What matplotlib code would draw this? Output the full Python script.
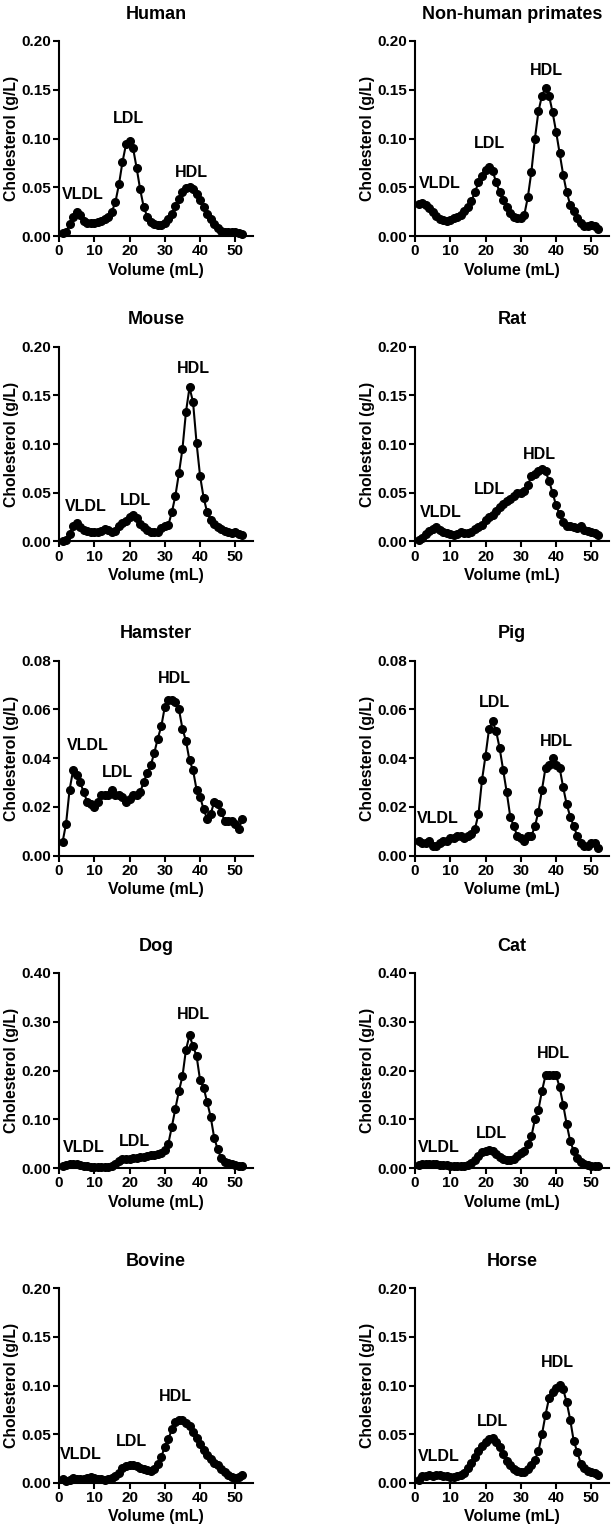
import matplotlib
matplotlib.use("Agg")
import matplotlib.pyplot as plt
from matplotlib.ticker import FormatStrFormatter, MultipleLocator

plt.rcParams['font.family'] = ['Liberation Sans', 'DejaVu Sans']
plt.rcParams['font.weight'] = 'bold'

volume = list(range(1, 53))

human = [0.003, 0.004, 0.012, 0.020, 0.025, 0.022, 0.015, 0.013, 0.013, 0.013,
         0.014, 0.015, 0.017, 0.020, 0.025, 0.035, 0.053, 0.076, 0.094, 0.097,
         0.090, 0.070, 0.048, 0.030, 0.020, 0.014, 0.012, 0.011, 0.011, 0.013,
         0.017, 0.023, 0.031, 0.038, 0.045, 0.049, 0.050, 0.048, 0.043, 0.037,
         0.030, 0.023, 0.017, 0.012, 0.008, 0.005, 0.004, 0.004, 0.004, 0.004,
         0.003, 0.002]
primates = [0.033, 0.034, 0.032, 0.029, 0.025, 0.021, 0.017, 0.016, 0.015, 0.016,
            0.018, 0.020, 0.022, 0.026, 0.030, 0.036, 0.045, 0.055, 0.062, 0.068,
            0.071, 0.067, 0.055, 0.045, 0.037, 0.030, 0.024, 0.020, 0.018, 0.018,
            0.022, 0.040, 0.066, 0.100, 0.128, 0.144, 0.152, 0.144, 0.127, 0.107,
            0.085, 0.063, 0.045, 0.032, 0.026, 0.018, 0.013, 0.010, 0.010, 0.011,
            0.010, 0.007]
mouse = [0.001, 0.002, 0.008, 0.016, 0.019, 0.015, 0.012, 0.011, 0.010, 0.010,
         0.010, 0.011, 0.013, 0.012, 0.010, 0.011, 0.016, 0.019, 0.021, 0.025,
         0.027, 0.024, 0.018, 0.015, 0.012, 0.010, 0.010, 0.010, 0.014, 0.016,
         0.017, 0.030, 0.047, 0.070, 0.095, 0.133, 0.158, 0.143, 0.101, 0.067,
         0.045, 0.030, 0.022, 0.018, 0.015, 0.013, 0.011, 0.010, 0.009, 0.010,
         0.008, 0.007]
rat = [0.002, 0.004, 0.008, 0.011, 0.013, 0.015, 0.012, 0.010, 0.009, 0.008,
       0.007, 0.008, 0.010, 0.009, 0.009, 0.010, 0.013, 0.015, 0.017, 0.022,
       0.025, 0.027, 0.031, 0.035, 0.038, 0.042, 0.044, 0.047, 0.050, 0.050,
       0.052, 0.058, 0.067, 0.069, 0.072, 0.074, 0.072, 0.062, 0.050, 0.037,
       0.028, 0.020, 0.016, 0.016, 0.015, 0.014, 0.016, 0.012, 0.011, 0.010,
       0.009, 0.007]
hamster = [0.0055, 0.013, 0.027, 0.035, 0.033, 0.030, 0.026, 0.022, 0.021, 0.020,
           0.022, 0.025, 0.025, 0.025, 0.027, 0.025, 0.025, 0.024, 0.022, 0.023,
           0.025, 0.025, 0.026, 0.030, 0.034, 0.037, 0.042, 0.048, 0.053, 0.061,
           0.064, 0.064, 0.063, 0.060, 0.052, 0.047, 0.039, 0.035, 0.027, 0.024,
           0.019, 0.015, 0.017, 0.022, 0.021, 0.018, 0.014, 0.014, 0.014, 0.013,
           0.011, 0.015]
pig = [0.006, 0.005, 0.005, 0.006, 0.004, 0.004, 0.005, 0.006, 0.006, 0.007,
       0.007, 0.008, 0.008, 0.007, 0.008, 0.009, 0.011, 0.017, 0.031, 0.041,
       0.052, 0.055, 0.051, 0.044, 0.035, 0.026, 0.016, 0.012, 0.008, 0.007,
       0.006, 0.008, 0.008, 0.012, 0.018, 0.027, 0.036, 0.037, 0.040, 0.037,
       0.036, 0.028, 0.021, 0.016, 0.012, 0.008, 0.005, 0.004, 0.004, 0.005,
       0.005, 0.003]
dog = [0.005, 0.007, 0.009, 0.009, 0.008, 0.007, 0.005, 0.004, 0.003, 0.003,
       0.003, 0.003, 0.002, 0.002, 0.004, 0.008, 0.015, 0.018, 0.018, 0.018,
       0.020, 0.021, 0.022, 0.023, 0.025, 0.026, 0.027, 0.028, 0.030, 0.037,
       0.050, 0.085, 0.122, 0.158, 0.188, 0.243, 0.272, 0.250, 0.230, 0.180,
       0.165, 0.135, 0.105, 0.062, 0.038, 0.020, 0.013, 0.010, 0.008, 0.006,
       0.005, 0.004]
cat = [0.007, 0.009, 0.008, 0.008, 0.009, 0.008, 0.007, 0.007, 0.006, 0.005,
       0.004, 0.004, 0.004, 0.005, 0.006, 0.010, 0.017, 0.025, 0.032, 0.035,
       0.036, 0.034, 0.029, 0.023, 0.018, 0.016, 0.016, 0.019, 0.025, 0.031,
       0.035, 0.050, 0.065, 0.100, 0.120, 0.158, 0.190, 0.190, 0.190, 0.190,
       0.166, 0.130, 0.090, 0.055, 0.035, 0.020, 0.012, 0.008, 0.006, 0.005,
       0.005, 0.004]
bovine = [0.004, 0.002, 0.003, 0.005, 0.004, 0.004, 0.004, 0.005, 0.006, 0.005,
          0.004, 0.004, 0.003, 0.004, 0.005, 0.007, 0.010, 0.015, 0.017, 0.018,
          0.018, 0.017, 0.015, 0.014, 0.013, 0.012, 0.014, 0.020, 0.027, 0.037,
          0.045, 0.055, 0.063, 0.065, 0.065, 0.062, 0.058, 0.052, 0.046, 0.040,
          0.034, 0.029, 0.025, 0.021, 0.018, 0.014, 0.011, 0.008, 0.006, 0.005,
          0.006, 0.008]
horse = [0.003, 0.007, 0.007, 0.008, 0.007, 0.008, 0.008, 0.007, 0.007, 0.006,
         0.006, 0.007, 0.008, 0.010, 0.015, 0.021, 0.027, 0.033, 0.038, 0.042,
         0.045, 0.046, 0.042, 0.037, 0.030, 0.023, 0.018, 0.014, 0.012, 0.011,
         0.011, 0.014, 0.018, 0.024, 0.033, 0.050, 0.070, 0.087, 0.093, 0.097,
         0.101, 0.096, 0.083, 0.065, 0.043, 0.032, 0.020, 0.015, 0.012, 0.011,
         0.010, 0.008]

titles = ["Human", "Non-human primates", "Mouse", "Rat", "Hamster", "Pig",
          "Dog", "Cat", "Bovine", "Horse"]
series = [human, primates, mouse, rat, hamster, pig, dog, cat, bovine, horse]
ymax = [0.20, 0.20, 0.20, 0.20, 0.08, 0.08, 0.40, 0.40, 0.20, 0.20]
ystep = [0.05, 0.05, 0.05, 0.05, 0.02, 0.02, 0.10, 0.10, 0.05, 0.05]
labels = ["VLDL", "LDL", "HDL"]
# label anchor positions (x, y) per panel for VLDL, LDL, HDL
label_x = [[6.7, 19.7, 37.6], [7.1, 21.2, 37.3], [7.5, 21.8, 38.0],
           [7.3, 21.2, 35.4], [8.2, 16.6, 32.8], [6.4, 22.6, 40.1],
           [7.0, 21.3, 38.0], [6.8, 21.7, 39.3], [6.3, 20.6, 33.1],
           [6.6, 21.9, 40.4]]
label_y = [[0.043, 0.121, 0.0655], [0.054, 0.0946, 0.170], [0.0357, 0.0425, 0.1776],
           [0.0294, 0.053, 0.0897], [0.0452, 0.0341, 0.0725], [0.015, 0.0628, 0.0468],
           [0.043, 0.055, 0.315], [0.042, 0.071, 0.234], [0.029, 0.0428, 0.089],
           [0.0276, 0.0635, 0.124]]

W, H = 616, 1533
fig = plt.figure(figsize=(W / 100, H / 100), dpi=100)

col_left = [59, 415]
ax_w = 194
row_top = [41, 346.5, 660.5, 973, 1288]
ax_h = 195

for i, (title, ys) in enumerate(zip(titles, series)):
    r, c = divmod(i, 2)
    left = col_left[c]
    top = row_top[r]
    ax = fig.add_axes([left / W, 1 - (top + ax_h) / H, ax_w / W, ax_h / H])
    ax.plot(volume, ys, color='black', lw=1.5, marker='o', ms=5.5,
            mfc='black', mec='black', clip_on=False, zorder=3)
    ax.set_xlim(0, 55)
    ax.set_ylim(0, ymax[i])
    ax.xaxis.set_major_locator(MultipleLocator(10))
    ax.yaxis.set_major_locator(MultipleLocator(ystep[i]))
    ax.yaxis.set_major_formatter(FormatStrFormatter('%.2f'))
    ax.spines['top'].set_visible(False)
    ax.spines['right'].set_visible(False)
    for s in ('left', 'bottom'):
        ax.spines[s].set_linewidth(1.5)
    ax.tick_params(direction='out', length=4, width=1.5, labelsize=11, pad=2)
    for lab in ax.get_xticklabels() + ax.get_yticklabels():
        lab.set_fontweight('bold')
    ax.set_xlabel("Volume (mL)", fontsize=11.5, fontweight='bold', labelpad=3)
    ax.set_ylabel("Cholesterol (g/L)", fontsize=11.3, fontweight='bold', labelpad=1.5)
    ax.set_title(title, fontsize=13, fontweight='bold', pad=16)
    for lx, ly, lt in zip(label_x[i], label_y[i], labels):
        ax.text(lx, ly, lt, ha='center', va='center', fontsize=11.5,
                fontweight='bold', clip_on=False)

fig.savefig("out.png", dpi=100, facecolor='white')
